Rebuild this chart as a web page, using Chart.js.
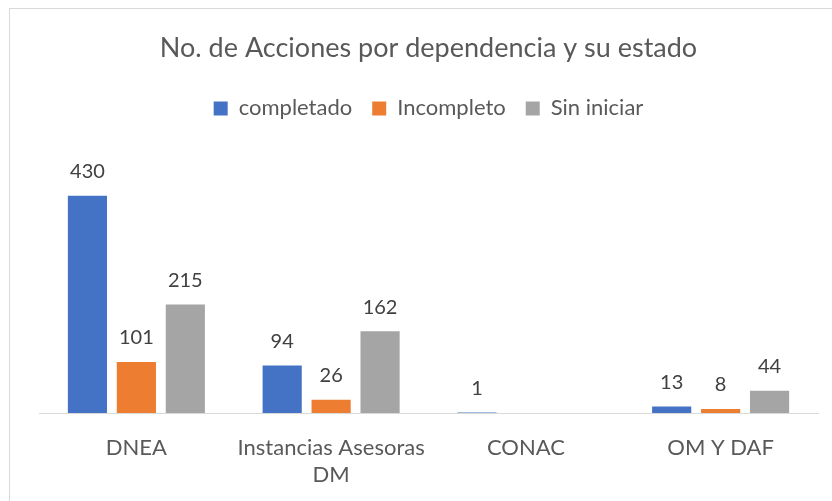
<!DOCTYPE html>
<html>
<head>
<meta charset="utf-8">
<script src="https://cdn.jsdelivr.net/npm/chart.js@4.4.1/dist/chart.umd.min.js"></script>
<style>
  html, body { margin: 0; padding: 0; background: #fff; overflow: hidden; }
  #wrap { position: relative; width: 832px; height: 501px; }
  #frame { position: absolute; left: 9px; top: 8px; width: 900px; height: 600px; border: 1px solid #d9d9d9; box-sizing: border-box; }
  canvas { position: absolute; left: 0; top: 0; }
</style>
</head>
<body>
<div id="wrap">
  <div id="frame"></div>
  <canvas id="chart" width="832" height="501"></canvas>
</div>
<script>
// No. de Acciones por dependencia y su estado

const categories = ['DNEA', ['Instancias Asesoras', 'DM'], 'CONAC', 'OM Y DAF'];
const completado = [430, 94, 1, 13];
const incompleto = [101, 26, null, 8];
const sinIniciar = [215, 162, null, 44];

const FONT = 'Lato, "Open Sans", sans-serif';

// draw the value over each bar
const valueLabels = {
    id: 'valueLabels',
    afterDatasetsDraw(chart) {
        const ctx = chart.ctx;
        ctx.save();
        ctx.font = '20px ' + FONT;
        ctx.fillStyle = '#404040';
        ctx.textAlign = 'center';
        ctx.textBaseline = 'middle';
        chart.data.datasets.forEach((ds, i) => {
            const meta = chart.getDatasetMeta(i);
            meta.data.forEach((bar, j) => {
                const v = ds.data[j];
                if (v === null || v === undefined) return;
                ctx.fillText(v, bar.x, bar.y - 24);
            });
        });
        ctx.restore();
    }
};

// extra room under the legend
const legendGap = {
    id: 'legendGap',
    beforeInit(chart) {
        const fit = chart.legend.fit;
        chart.legend.fit = function() {
            fit.bind(chart.legend)();
            this.height += 31;
        };
    }
};

new Chart(document.getElementById('chart').getContext('2d'), {
    type: 'bar',
    data: {
        labels: categories,
        datasets: [{
            label: 'completado',
            data: completado,
            backgroundColor: '#4472C4'
        }, {
            label: 'Incompleto',
            data: incompleto,
            backgroundColor: '#ED7D31'
        }, {
            label: 'Sin iniciar',
            data: sinIniciar,
            backgroundColor: '#A5A5A5'
        }]
    },
    options: {
        responsive: false,
        animation: false,
        categoryPercentage: 0.754,
        barPercentage: 0.8,
        layout: {
            padding: { top: 20, left: 39, right: 14, bottom: 0 }
        },
        plugins: {
            title: {
                display: true,
                text: 'No. de Acciones por dependencia y su estado',
                color: '#595959',
                font: { family: FONT, size: 27, weight: 'normal' },
                padding: { top: 12, bottom: 13 }
            },
            legend: {
                display: true,
                position: 'top',
                labels: {
                    color: '#595959',
                    font: { family: FONT, size: 22 },
                    boxWidth: 14,
                    boxHeight: 14,
                    padding: 20
                }
            },
            tooltip: { enabled: false }
        },
        scales: {
            x: {
                grid: { display: false, drawTicks: false },
                border: { display: true, color: '#d9d9d9', width: 1 },
                ticks: {
                    color: '#595959',
                    font: { family: FONT, size: 22, lineHeight: 1.23 },
                    padding: 21,
                    maxRotation: 0
                },
                afterFit(scale) { scale.height = 88; }
            },
            y: {
                display: false,
                min: 0,
                max: 500
            }
        }
    },
    plugins: [valueLabels, legendGap]
});
</script>
</body>
</html>
